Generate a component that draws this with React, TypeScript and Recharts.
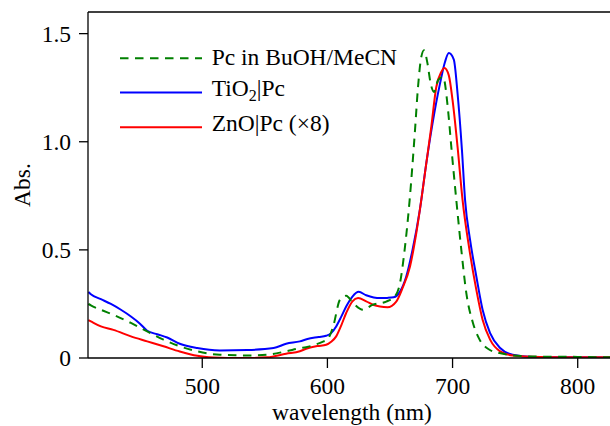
import React from 'react';
import { LineChart, Line, XAxis, YAxis, ReferenceLine, Legend, Label } from 'recharts';

const FS = 23.5;
const SERIF = { fontFamily: "'Liberation Serif'" };

// Pc in BuOH/MeCN (dashed green)
const pcWl = [409, 411, 419, 429, 443, 456, 469, 482, 496, 514, 536, 552, 567, 578, 583, 597, 600, 604.6, 610, 615, 620.5, 628.5, 636, 647, 653.7, 657.7, 661.7, 665.7, 669.8, 672.4, 675, 677.2, 680, 682.5, 685.2, 688.4, 692.4, 696.4, 699, 703, 707, 711, 716.3, 721.6, 729.5, 737.5, 748, 764, 800, 826];
const pcAbs = [0.25, 0.243, 0.223, 0.2, 0.162, 0.123, 0.085, 0.054, 0.031, 0.015, 0.012, 0.015, 0.031, 0.045, 0.05, 0.077, 0.085, 0.146, 0.269, 0.288, 0.254, 0.223, 0.246, 0.261, 0.284, 0.338, 0.5, 0.73, 1.038, 1.253, 1.392, 1.423, 1.361, 1.269, 1.23, 1.284, 1.3, 1.146, 0.976, 0.73, 0.5, 0.3, 0.162, 0.085, 0.038, 0.023, 0.012, 0.007, 0.005, 0.003];

// TiO2|Pc (blue)
const tiWl = [409, 411, 419, 427, 435, 443, 450, 456, 464, 472, 482, 496, 514, 536, 557, 567, 578, 584, 593, 599, 603, 607, 611, 615, 620, 625, 631, 637, 642, 648, 653, 658, 663, 668, 674, 679, 684, 690, 694, 697, 701, 704, 707.5, 710, 714, 719, 724, 730, 738, 748, 764, 790, 826];
const tiAbs = [0.305, 0.295, 0.272, 0.25, 0.223, 0.192, 0.16, 0.126, 0.11, 0.095, 0.066, 0.046, 0.035, 0.037, 0.046, 0.066, 0.077, 0.088, 0.097, 0.103, 0.115, 0.146, 0.19, 0.238, 0.284, 0.306, 0.29, 0.28, 0.277, 0.278, 0.281, 0.307, 0.377, 0.5, 0.69, 0.9, 1.085, 1.27, 1.37, 1.41, 1.38, 1.223, 0.961, 0.73, 0.546, 0.377, 0.223, 0.115, 0.046, 0.015, 0.005, 0.003, 0.002];

// ZnO|Pc (x8) (red)
const znWl = [409, 411, 419, 429, 443, 456, 469, 482, 496, 509, 520, 536, 552, 567, 578, 583, 592, 599, 603, 607, 611, 615, 620, 624.5, 631, 637, 642, 648, 655, 660, 666, 671, 675, 679, 683, 687, 691, 693.5, 697, 700, 704, 708, 713.5, 719, 724, 730, 738, 748, 770, 800, 826];
const znAbs = [0.175, 0.169, 0.146, 0.13, 0.1, 0.077, 0.054, 0.03, 0.01, 0.002, 0, 0, 0.003, 0.02, 0.031, 0.043, 0.055, 0.061, 0.075, 0.1, 0.15, 0.208, 0.262, 0.277, 0.262, 0.245, 0.238, 0.235, 0.261, 0.323, 0.423, 0.577, 0.73, 0.9, 1.069, 1.253, 1.323, 1.341, 1.307, 1.192, 0.976, 0.73, 0.5, 0.315, 0.177, 0.085, 0.031, 0.012, 0.005, 0.003, 0.003];

const xTicks = [500, 600, 700, 800];
const yTicks = [0, 0.5, 1.0, 1.5];
const xDomain = [408.7, 825.8];
const yDomain = [0, 1.6];

const seriesNames = ['Pc in BuOH/MeCN', 'TiO2|Pc', 'ZnO|Pc (×8)'];

const toData = (wl: number[], a: number[]) => wl.map((w, i) => ({ wl: w, a: a[i] }));
const pcData = toData(pcWl, pcAbs);
const tiData = toData(tiWl, tiAbs);
const znData = toData(znWl, znAbs);

const GREEN = '#008000';
const BLUE = '#0000ff';
const RED = '#ff0000';

const XTick = (props: any) => (
  <text x={props.x} y={props.y} dy="0.71em" textAnchor="middle" fontSize={FS} fill="#000" style={SERIF}>
    {String(props.payload.value)}
  </text>
);

const YTick = (props: any) => {
  const v = props.payload.value as number;
  return (
    <text x={props.x} y={props.y} dy="0.355em" textAnchor="end" fontSize={FS} fill="#000" style={SERIF}>
      {v === 0 ? '0' : v.toFixed(1)}
    </text>
  );
};

const renderLegend = () => (
  <svg width={320} height={110} style={{ overflow: 'visible', display: 'block' }}>
    <line x1={10} x2={92} y1={18.3} y2={18.3} stroke={GREEN} strokeWidth={2} strokeDasharray="8.5 6.5" />
    <text x={101.7} y={25} fontSize={FS} fill="#000" style={SERIF}>{seriesNames[0]}</text>
    <line x1={10} x2={92} y1={52.5} y2={52.5} stroke={BLUE} strokeWidth={2} />
    <text x={101.7} y={55.5} fontSize={FS} fill="#000" style={SERIF}>
      TiO<tspan fontSize={16} dy={5}>2</tspan><tspan dy={-5}>|Pc</tspan>
    </text>
    <line x1={10} x2={92} y1={87.3} y2={87.3} stroke={RED} strokeWidth={2} />
    <text x={101.7} y={91} fontSize={FS} fill="#000" style={SERIF}>{seriesNames[2]}</text>
  </svg>
);

const XLabel = (props: any) => {
  const vb = props.viewBox || { x: 88, y: 358, width: 522, height: 68 };
  return (
    <text x={vb.x + vb.width / 2 + 3} y={vb.y + vb.height - 6.5} textAnchor="middle" fontSize={FS} fill="#000" style={SERIF}>
      wavelength (nm)
    </text>
  );
};

const YLabel = (props: any) => {
  const vb = props.viewBox || { x: 0, y: 12, width: 88, height: 346 };
  const cx = 30;
  const cy = vb.y + vb.height / 2;
  return (
    <text x={cx} y={cy} transform={`rotate(-90 ${cx} ${cy})`} textAnchor="middle" fontSize={FS} fill="#000" style={SERIF}>
      Abs.
    </text>
  );
};

export default function App() {
  return (
    <div style={{ position: 'absolute', left: 0, top: 0, width: 610, height: 426, background: '#fff' }}>
      <LineChart width={610} height={426} margin={{ top: 12, right: 0, bottom: 0, left: 0 }}>
        <XAxis
          dataKey="wl"
          type="number"
          domain={xDomain}
          ticks={xTicks}
          allowDataOverflow
          height={68}
          tickSize={10}
          tickMargin={9}
          tick={XTick}
          axisLine={{ stroke: '#000', strokeWidth: 1.3 }}
          tickLine={{ stroke: '#000', strokeWidth: 1.3 }}
        >
          <Label content={XLabel} />
        </XAxis>
        <YAxis
          type="number"
          domain={yDomain}
          ticks={yTicks}
          allowDataOverflow
          width={88}
          tickSize={9}
          tickMargin={8}
          tick={YTick}
          axisLine={{ stroke: '#000', strokeWidth: 1.3 }}
          tickLine={{ stroke: '#000', strokeWidth: 1.3 }}
        >
          <Label content={YLabel} />
        </YAxis>
        <ReferenceLine y={1.6} stroke="#000" strokeWidth={1.3} />
        <Line data={tiData} dataKey="a" name={seriesNames[1]} type="monotone" stroke={BLUE} strokeWidth={2} dot={false} isAnimationActive={false} />
        <Line data={znData} dataKey="a" name={seriesNames[2]} type="monotone" stroke={RED} strokeWidth={2} dot={false} isAnimationActive={false} />
        <Line data={pcData} dataKey="a" name={seriesNames[0]} type="monotone" stroke={GREEN} strokeWidth={2} strokeDasharray="8.5 6.5" dot={false} isAnimationActive={false} />
        <Legend
          layout="horizontal"
          verticalAlign="middle"
          align="center"
          content={renderLegend}
          wrapperStyle={{ left: 110, top: 40, width: 320, height: 110 }}
        />
      </LineChart>
    </div>
  );
}
